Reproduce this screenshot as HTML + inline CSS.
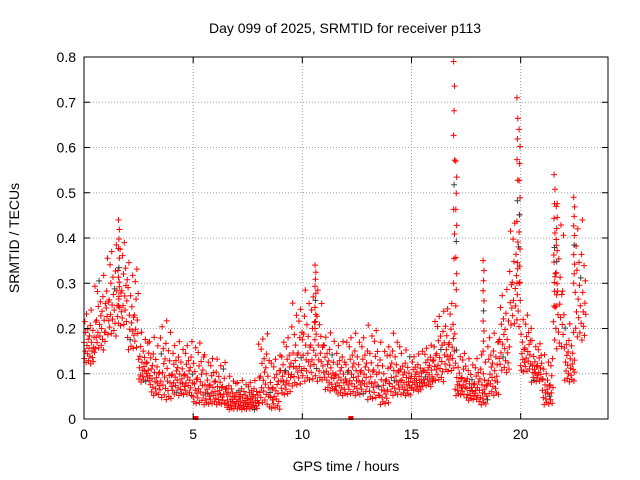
<!DOCTYPE html>
<html><head><meta charset="utf-8"><style>
body{margin:0;background:#fff;}
svg{display:block;font-family:"Liberation Sans",sans-serif;}
</style></head><body>
<svg id="chart" width="640" height="480">
<text x="345" y="33" font-size="14" text-anchor="middle">Day 099 of 2025, SRMTID for receiver p113</text>
<text x="346" y="471" font-size="14" text-anchor="middle">GPS time / hours</text>
<text transform="translate(19,238) rotate(-90)" font-size="14" text-anchor="middle">SRMTID / TECUs</text>
<g id="grid"></g><g id="marks"></g><g id="axes"></g>
</svg>
<script>
// data: envelope per half-hour interval (start hour, low, high)
const binStart=[0,0.5,1,1.5,2,2.5,3,3.5,4,4.5,5,5.5,6,6.5,7,7.5,8,8.5,9,9.5,10,10.5,11,11.5,12,12.5,13,13.5,14,14.5,15,15.5,16,16.5,17,17.5,18,18.5,19,19.5,20,20.5,21,21.5,22,22.5];
const binLow=[0.12,0.15,0.18,0.2,0.15,0.08,0.05,0.04,0.05,0.05,0.03,0.03,0.03,0.02,0.02,0.02,0.03,0.02,0.05,0.07,0.08,0.08,0.06,0.05,0.05,0.05,0.04,0.03,0.05,0.05,0.06,0.07,0.08,0.1,0.05,0.04,0.03,0.05,0.1,0.2,0.1,0.08,0.03,0.15,0.08,0.17];
const binHigh=[0.25,0.33,0.4,0.42,0.36,0.2,0.19,0.23,0.18,0.18,0.19,0.15,0.14,0.1,0.09,0.09,0.2,0.15,0.2,0.27,0.3,0.3,0.2,0.18,0.2,0.2,0.22,0.18,0.2,0.16,0.15,0.17,0.25,0.28,0.16,0.14,0.15,0.2,0.3,0.47,0.25,0.18,0.15,0.5,0.22,0.46];
// spikes: hour, base, peak
const spikeHour=[1.6,10.6,16.95,17.05,18.3,19.85,19.95,21.55,21.65,22.45];
const spikeBase=[0.25,0.2,0.3,0.25,0.15,0.3,0.3,0.25,0.25,0.3];
const spikePeak=[0.44,0.34,0.79,0.57,0.35,0.71,0.64,0.54,0.47,0.49];
const zeroHours=[5.1,5.15,12.2,12.25];
const yTicks=[0,0.1,0.2,0.3,0.4,0.5,0.6,0.7,0.8];
const xTicks=[0,5,10,15,20];
const pattern=[0.5,0.2,0.8,0.35,0.65,0.1,0.9,0.45,0.3,0.7,0.55,0.15,0.4,0.6,0.25,0.75,0.05,0.95,0.5,0.35,0.22,0.68,0.12,0.42,0.58,0.33,0.85,0.08,0.48,0.28];

const L=84,R=608,T=57,B=419;
const xs=h=>L+h*(R-L)/24, ys=v=>B-v*(B-T)/0.8;
const NS="http://www.w3.org/2000/svg";
function mk(tag,attrs,parent){const e=document.createElementNS(NS,tag);for(const k in attrs)e.setAttribute(k,attrs[k]);parent.appendChild(e);return e;}
const grid=document.getElementById('grid'),marks=document.getElementById('marks'),axes=document.getElementById('axes');
yTicks.forEach(v=>{const y=ys(v);
 if(v>0&&v<0.8){const g=mk('line',{x1:L,x2:R,y1:y,y2:y,stroke:'#a0a0a0','stroke-dasharray':'1,2'},grid);}
 mk('line',{x1:L,x2:L+6,y1:y,y2:y,stroke:'#000'},axes);mk('line',{x1:R,x2:R-6,y1:y,y2:y,stroke:'#000'},axes);
 const t=mk('text',{x:L-8,y:y+5,'font-size':14,'text-anchor':'end'},axes);t.textContent=v===0?'0':v.toFixed(1);
 });
xTicks.forEach(h=>{const x=xs(h);
 if(h>0){const g=mk('line',{x1:x,x2:x,y1:T,y2:B,stroke:'#a0a0a0','stroke-dasharray':'1,2'},grid);}
 mk('line',{x1:x,x2:x,y1:B,y2:B-6,stroke:'#000'},axes);mk('line',{x1:x,x2:x,y1:T,y2:T+6,stroke:'#000'},axes);
 const t=mk('text',{x:x,y:B+20,'font-size':14,'text-anchor':'middle'},axes);t.textContent=h;
 });
const fr=mk('rect',{x:L,y:T,width:R-L,height:B-T,fill:'none',stroke:'#000'},axes);

function plus(h,v,color){const x=xs(h),y=ys(v);
 const p=mk('path',{d:`M${x-3},${y}h6M${x},${y-3}v6`,stroke:color,'stroke-width':1},marks);
 }
let k=0;
binStart.forEach((s,i)=>{const lo=binLow[i],hi=binHigh[i];const n=26;
 for(let j=0;j<n;j++){const h=s+j*0.5/n;const f=pattern[(k++)%pattern.length];
  plus(h,lo+(hi-lo)*Math.pow(f,1.4),((k*7)%37==0)?'#404040':'#ff0000');}
});
spikeHour.forEach((h,i)=>{const b=spikeBase[i],p=spikePeak[i];
 for(let j=0;j<=9;j++){plus(h+(j%3-1)*0.02,b+(p-b)*j/9,j==4?'#404040':'#ff0000');}});
zeroHours.forEach(h=>{const r=mk('rect',{x:xs(h)-2,y:B-3,width:4,height:4,fill:'#ff0000'},marks);
 });
</script>
</body></html>
